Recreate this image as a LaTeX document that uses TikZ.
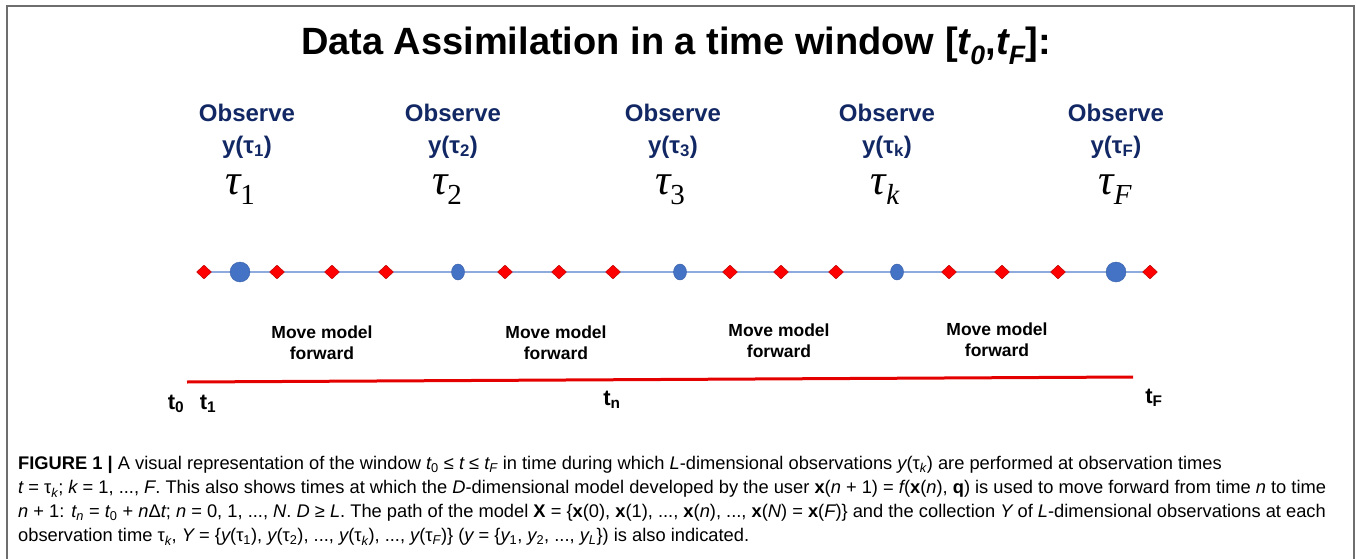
\documentclass[tikz,border=0pt]{standalone}
\usepackage{fontspec}
\setmainfont{Liberation Sans}
\newfontfamily\taufont{Liberation Serif}
\usetikzlibrary{shapes.geometric, positioning, backgrounds}

\definecolor{obsblue}{RGB}{18,40,100}
\definecolor{dotblue}{RGB}{68,114,196}
\definecolor{lineblue}{RGB}{143,170,220}
\definecolor{framegray}{RGB}{110,110,110}

\tikzset{
    observe/.style={align=center, text=obsblue, font=\fontsize{24}{32}\selectfont\bfseries, inner sep=0pt},
    taulabel/.style={font=\fontsize{43}{44}\selectfont\taufont\itshape, inner sep=0pt},
    modeldiamond/.style={draw=red!70!black, fill=red, diamond, minimum width=15pt, minimum height=14pt, inner sep=0pt, line width=0.4pt},
    obsbig/.style={draw=dotblue!85!black, fill=dotblue, ellipse, minimum width=20pt, minimum height=20pt, inner sep=0pt, line width=0.4pt},
    obssmall/.style={draw=dotblue!85!black, fill=dotblue, ellipse, minimum width=13pt, minimum height=16pt, inner sep=0pt, line width=0.4pt},
    movelabel/.style={align=center, font=\fontsize{17.5}{21}\selectfont\bfseries, inner sep=0pt},
    timelabel/.style={font=\fontsize{22}{24}\selectfont\bfseries, inner sep=0pt},
    captionline/.style={anchor=west, font=\fontsize{18.3}{20}\selectfont, inner sep=0pt}
}

\newcommand{\ti}[1]{{\itshape #1}}
\newcommand{\sbs}[1]{\textsubscript{#1}}

\begin{document}
\begin{tikzpicture}[x=1pt, y=-1pt]
    \useasboundingbox (0,0) rectangle (1357,559);

    % -----------------------------------------------------------------
    % CORNICE
    % -----------------------------------------------------------------
    \draw[framegray, line width=2pt] (7,559) -- (7,6) -- (1354,6) -- (1354,559);

    % -----------------------------------------------------------------
    % TITOLO
    % -----------------------------------------------------------------
    \node[font=\fontsize{38}{44}\selectfont\bfseries] (title) at (676,46)
        {Data Assimilation in a time window [\ti{t}\sbs{\ti{0}},\ti{t}\sbs{\ti{F}}]:};

    % -----------------------------------------------------------------
    % OSSERVAZIONI
    % -----------------------------------------------------------------
    \node[observe] (obs1) at (247,131) {Observe\\y(τ\sbs{1})};
    \node[observe] (obs2) at (453,131) {Observe\\y(τ\sbs{2})};
    \node[observe] (obs3) at (673,131) {Observe\\y(τ\sbs{3})};
    \node[observe] (obsk) at (887,131) {Observe\\y(τ\sbs{k})};
    \node[observe] (obsF) at (1116,131) {Observe\\y(τ\sbs{F})};

    \node[taulabel] (tau1) at (240,190) {τ\raisebox{-10pt}{\fontsize{29}{30}\selectfont\upshape 1}};
    \node[taulabel] (tau2) at (447,190) {τ\raisebox{-10pt}{\fontsize{29}{30}\selectfont\upshape 2}};
    \node[taulabel] (tau3) at (670,190) {τ\raisebox{-10pt}{\fontsize{29}{30}\selectfont\upshape 3}};
    \node[taulabel] (tauk) at (885,190) {τ\raisebox{-10pt}{\fontsize{29}{30}\selectfont k}};
    \node[taulabel] (tauF) at (1115,190) {τ\raisebox{-10pt}{\fontsize{29}{30}\selectfont F}};

    % -----------------------------------------------------------------
    % ASSE DEI PASSI DEL MODELLO
    % -----------------------------------------------------------------
    \foreach \x [count=\i] in {204,277,332,386,505,559,613,730,781,836,949,1002,1058,1150}
        \node[modeldiamond] (d\i) at (\x,272) {};

    \node[obsbig]   (c1) at (240,272) {};
    \node[obssmall] (c2) at (458,272) {};
    \node[obssmall] (c3) at (680,272) {};
    \node[obssmall] (ck) at (897,272) {};
    \node[obsbig]   (cF) at (1116,272) {};

    \begin{scope}[on background layer]
        \draw[lineblue, line width=1.5pt] (d1.center) -- (d14.center);
    \end{scope}

    % -----------------------------------------------------------------
    % AVANZAMENTO DEL MODELLO
    % -----------------------------------------------------------------
    \node[movelabel] (move1) at (322,343) {Move model\\forward};
    \node[movelabel] (move2) at (556,343) {Move model\\forward};
    \node[movelabel] (move3) at (779,341) {Move model\\forward};
    \node[movelabel] (move4) at (997,340) {Move model\\forward};

    \coordinate (redL) at (187,382);
    \coordinate (redR) at (1133,377);
    \draw[red!90!black, line width=3pt] (redL) -- (redR);

    \node[timelabel] (t0) at (176,404) {t\sbs{0}};
    \node[timelabel] (t1) at (208,404) {t\sbs{1}};
    \node[timelabel] (tn) at (612,400) {t\sbs{n}};
    \node[timelabel] (tF) at (1154,398) {t\sbs{F}};

    % -----------------------------------------------------------------
    % DIDASCALIA
    % -----------------------------------------------------------------
    \node[captionline] (cap1) at (18,465) {\textbf{FIGURE 1 |} A visual representation of the window \ti{t}\sbs{0} ≤ \ti{t} ≤ \ti{t}\sbs{\ti{F}} in time during which \ti{L}-dimensional observations \ti{y}(τ\sbs{\ti{k}}) are performed at observation times};
    \node[captionline] (cap2) at (18,489) {\ti{t} = τ\sbs{\ti{k}}; \ti{k} = 1, ..., \ti{F}. This also shows times at which the \ti{D}-dimensional model developed by the user \textbf{x}(\ti{n} + 1) = \ti{f}(\textbf{x}(\ti{n}), \textbf{q}) is used to move forward from time \ti{n} to time};
    \node[captionline] (cap3) at (18,513) {\ti{n} + 1: \ti{t}\sbs{\ti{n}} = \ti{t}\sbs{0} + \ti{n}Δ\ti{t}; \ti{n} = 0, 1, ..., \ti{N}. \ti{D} ≥ \ti{L}. The path of the model \textbf{X} = \{\textbf{x}(0), \textbf{x}(1), ..., \textbf{x}(\ti{n}), ..., \textbf{x}(\ti{N}) = \textbf{x}(\ti{F})\} and the collection \ti{Y} of \ti{L}-dimensional observations at each};
    \node[captionline] (cap4) at (18,537) {observation time τ\sbs{\ti{k}}, \ti{Y} = \{\ti{y}(τ\sbs{1}), \ti{y}(τ\sbs{2}), ..., \ti{y}(τ\sbs{\ti{k}}), ..., \ti{y}(τ\sbs{\ti{F}})\} (\ti{y} = \{\ti{y}\sbs{1}, \ti{y}\sbs{2}, ..., \ti{y}\sbs{\ti{L}}\}) is also indicated.};

\end{tikzpicture}
\end{document}
